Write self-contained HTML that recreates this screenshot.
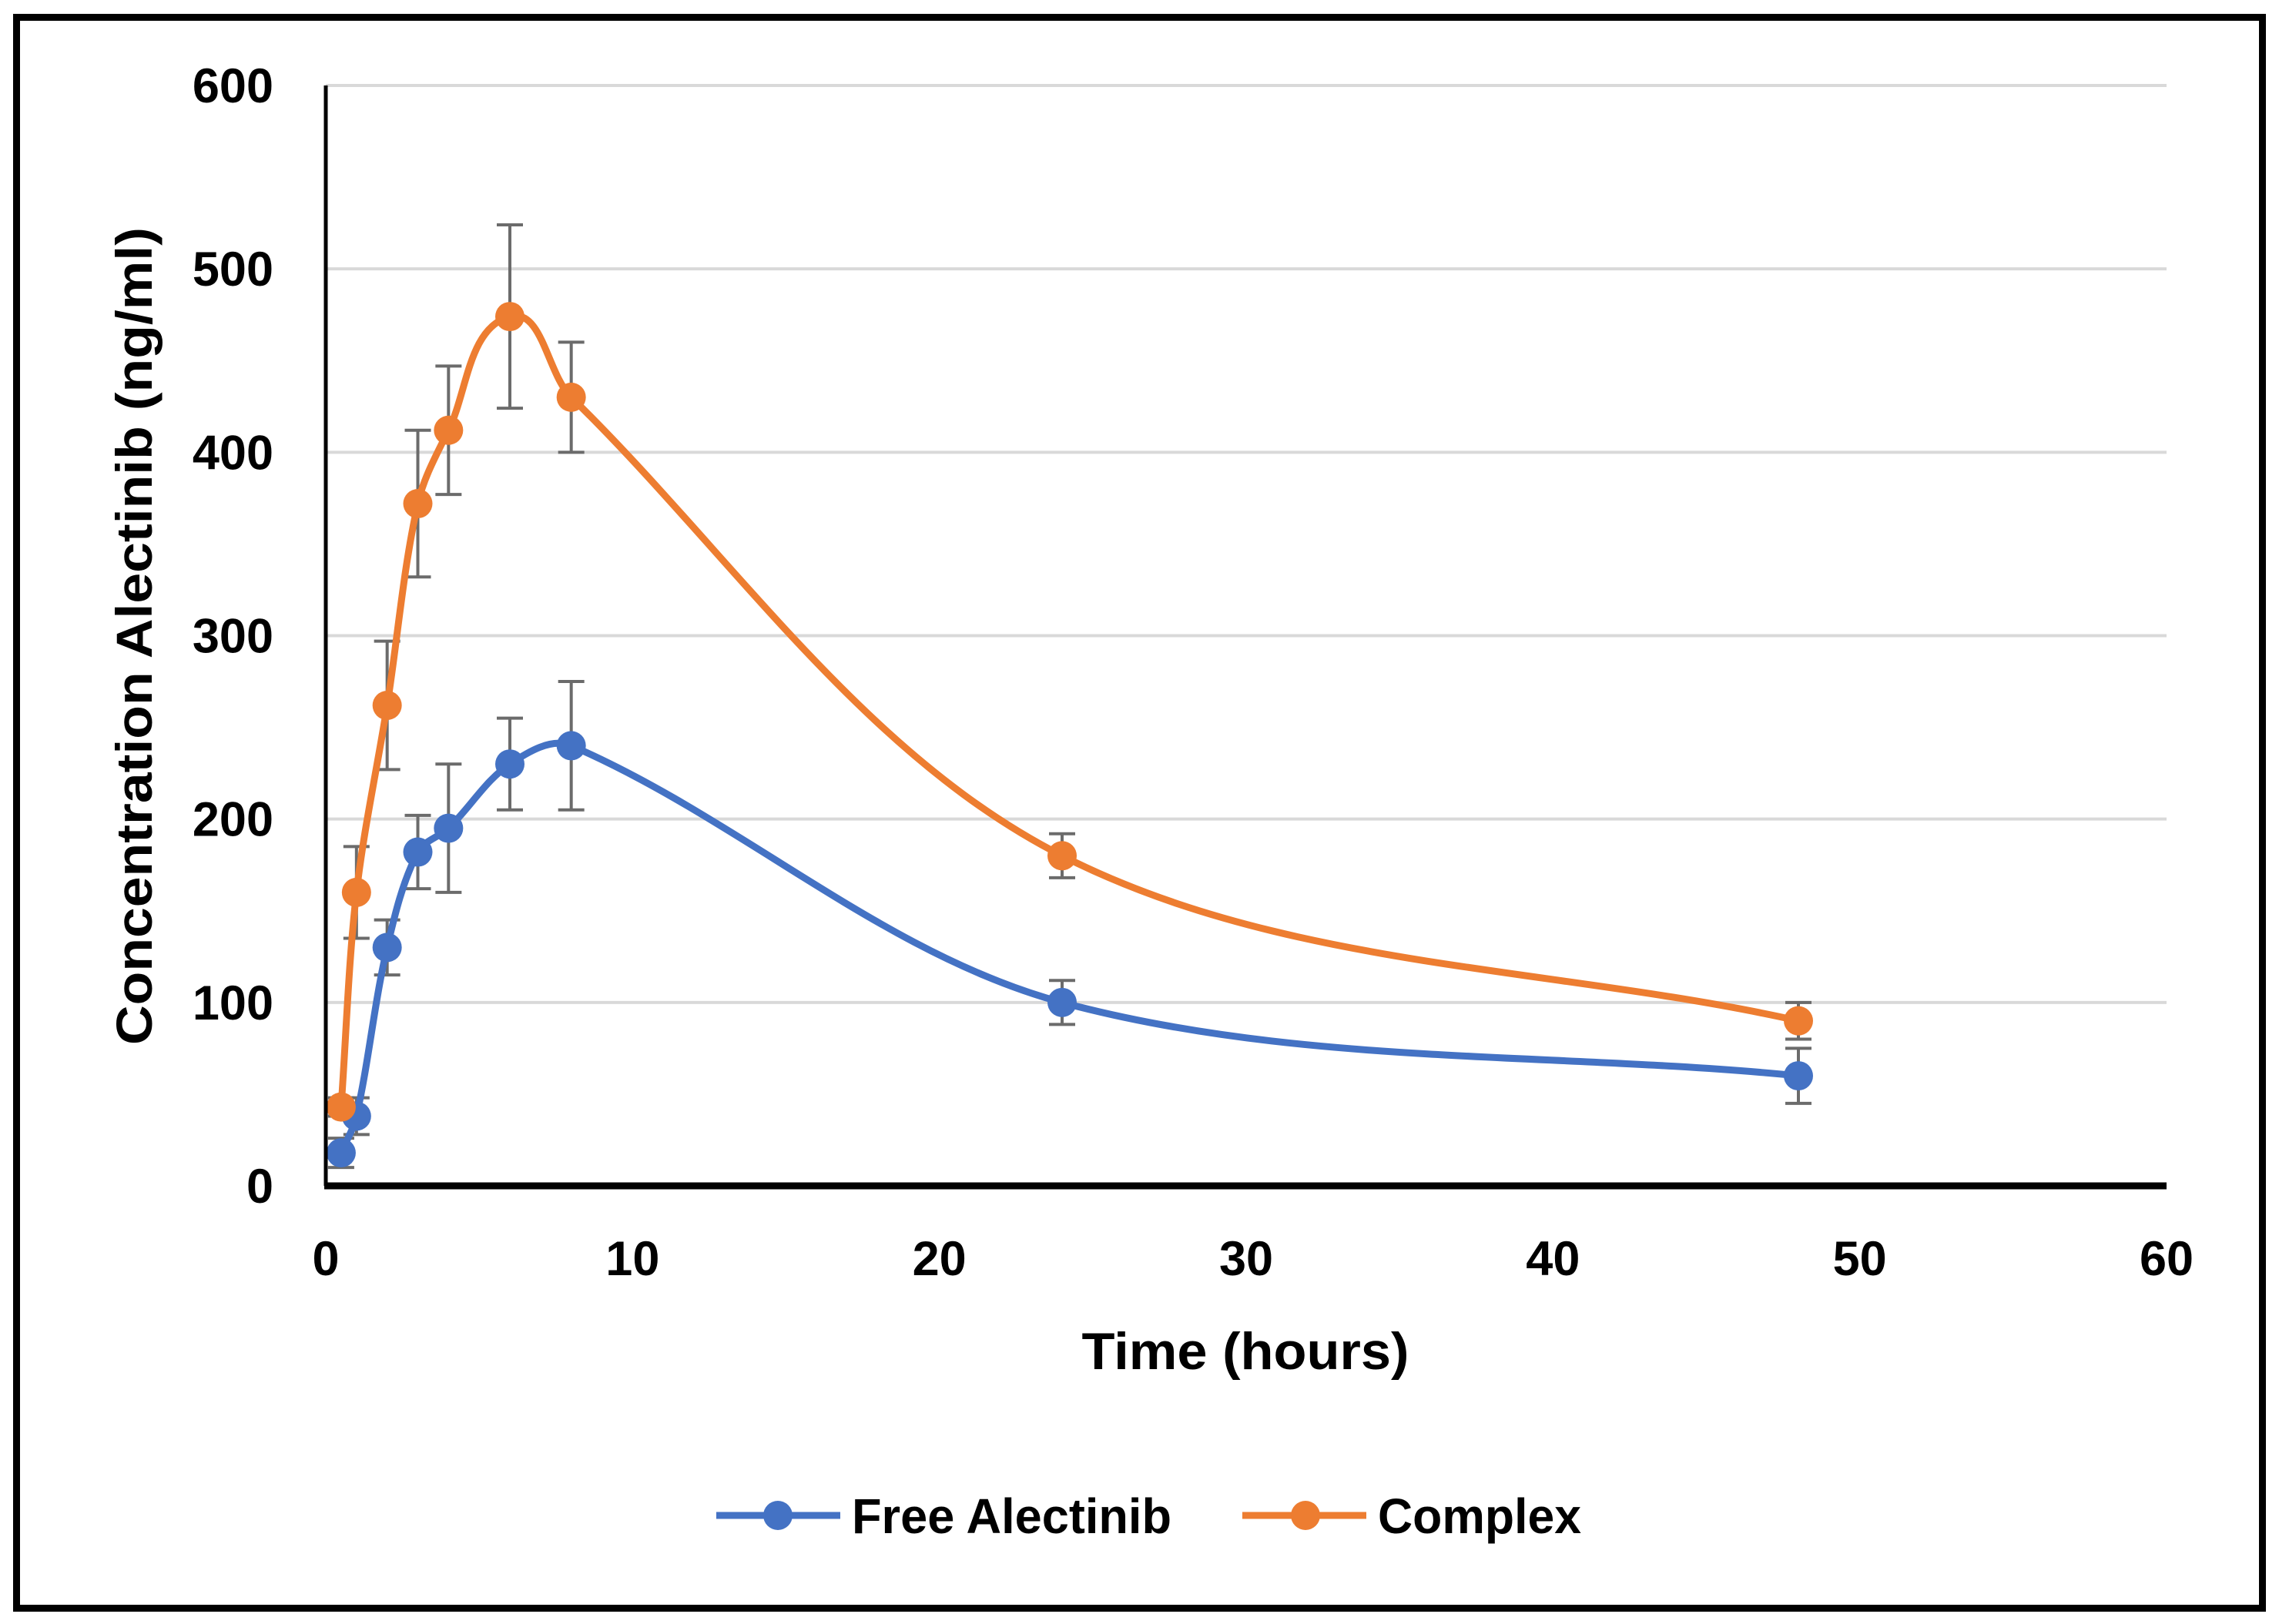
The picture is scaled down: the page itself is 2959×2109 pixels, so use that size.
<!DOCTYPE html>
<html><head><meta charset="utf-8"><style>
html,body{margin:0;padding:0;background:#fff;}
svg{display:block;font-family:"Liberation Sans",sans-serif;font-weight:bold;}
</style></head><body>
<svg id="chart" width="2959" height="2109" viewBox="0 0 2959 2109" xmlns="http://www.w3.org/2000/svg">
<rect x="21.5" y="22.5" width="2916" height="2066" fill="#fff" stroke="#000" stroke-width="9"/>
<g id="grid"></g><g id="errs"></g><g id="lines"></g><g id="ticks"></g>
<text x="1617" y="1778" font-size="68" text-anchor="middle" textLength="425" lengthAdjust="spacingAndGlyphs">Time (hours)</text>
<text transform="translate(197,826) rotate(-90)" font-size="66" text-anchor="middle" textLength="1062" lengthAdjust="spacingAndGlyphs">Concentration Alectinib (ng/ml)</text>
<g>
<g>
<line x1="930" y1="1968" x2="1091" y2="1968" stroke="#4472C4" stroke-width="9"/>
<circle cx="1010" cy="1968" r="19" fill="#4472C4"/>
<text x="1106" y="1991" font-size="64" textLength="415" lengthAdjust="spacingAndGlyphs">Free Alectinib</text></g>
<g>
<line x1="1613" y1="1968" x2="1774" y2="1968" stroke="#ED7D31" stroke-width="9"/>
<circle cx="1695" cy="1968" r="19" fill="#ED7D31"/>
<text x="1789" y="1991" font-size="64" textLength="264" lengthAdjust="spacingAndGlyphs">Complex</text></g>
</g>
</svg>
<script>
const times=[0.5,1,2,3,4,6,8,24,48];
const freeVals=[18,38,130,182,195,230,240,100,60];
const freeErr=[8,10,15,20,35,25,35,12,15];
const complexVals=[43,160,262,372,412,474,430,180,90];
const complexErr=[5,25,35,40,35,50,30,12,10];
const yTicks=[0,100,200,300,400,500,600];
const xTicks=[0,10,20,30,40,50,60];
const NS="http://www.w3.org/2000/svg";
const X0=423,X1=2813,Y0=1540,Y1=111;
const xs=v=>X0+(v-0)/(60-0)*(X1-X0);
const ys=v=>Y0-(v-0)/(600-0)*(Y0-Y1);
function mk(tag,attrs,parent){const e=document.createElementNS(NS,tag);for(const k in attrs)e.setAttribute(k,attrs[k]);parent.appendChild(e);return e;}
const grid=document.getElementById('grid'),ticks=document.getElementById('ticks'),errs=document.getElementById('errs'),lines=document.getElementById('lines');
yTicks.forEach(t=>{
 if(t>0){const g=mk('line',{x1:X0,x2:X1,y1:ys(t),y2:ys(t),stroke:'#d9d9d9','stroke-width':4},grid);
 
 }
 const l=mk('text',{x:355,y:ys(t)+22,'font-size':63,'text-anchor':'end'},ticks);l.textContent=t;
 
 
});
xTicks.forEach(t=>{
 const l=mk('text',{x:xs(t),y:1656,'font-size':63,'text-anchor':'middle'},ticks);l.textContent=t;
 
 
});
const ya=mk('line',{x1:X0,x2:X0,y1:Y1,y2:Y0,stroke:'#000','stroke-width':5},ticks);


const xa=mk('line',{x1:X0-2,x2:X1,y1:Y0,y2:Y0,stroke:'#000','stroke-width':9},ticks);


function smooth(pts){
 const n=pts.length;
 const dist=(a,b)=>Math.hypot(b[0]-a[0],b[1]-a[1]);
 const tan=pts.map((p,i)=>{
  const a=pts[Math.max(0,i-1)],b=pts[Math.min(n-1,i+1)];
  const dx=b[0]-a[0],dy=b[1]-a[1],L=Math.hypot(dx,dy)||1;return [dx/L,dy/L];});
 let d='M'+pts[0][0]+','+pts[0][1];
 for(let i=0;i<n-1;i++){
  const p1=pts[i],p2=pts[i+1],L=dist(p1,p2)/3;
  const c1=[p1[0]+tan[i][0]*L,p1[1]+tan[i][1]*L];
  const c2=[p2[0]-tan[i+1][0]*L,p2[1]-tan[i+1][1]*L];
  d+=' C'+c1+' '+c2+' '+p2;
 }return d;}
function series(name,vals,err,color){
 vals.forEach((v,i)=>{
  const x=xs(times[i]);
  const g=mk('g',{stroke:'#6b6b6b','stroke-width':4},errs);
  
  
  mk('line',{x1:x,x2:x,y1:ys(v-err[i]),y2:ys(v+err[i])},g);
  mk('line',{x1:x-17,x2:x+17,y1:ys(v-err[i]),y2:ys(v-err[i])},g);
  mk('line',{x1:x-17,x2:x+17,y1:ys(v+err[i]),y2:ys(v+err[i])},g);
 });
 const p=mk('path',{d:smooth(vals.map((v,i)=>[xs(times[i]),ys(v)])),fill:'none',stroke:color,'stroke-width':9,'stroke-linejoin':'round'},lines);
 
 
 vals.forEach((v,i)=>{
  const c=mk('circle',{cx:xs(times[i]),cy:ys(v),r:19,fill:color},lines);
  
  
 });
}
series('free-alectinib',freeVals,freeErr,'#4472C4');
series('complex',complexVals,complexErr,'#ED7D31');
</script>
</body></html>
